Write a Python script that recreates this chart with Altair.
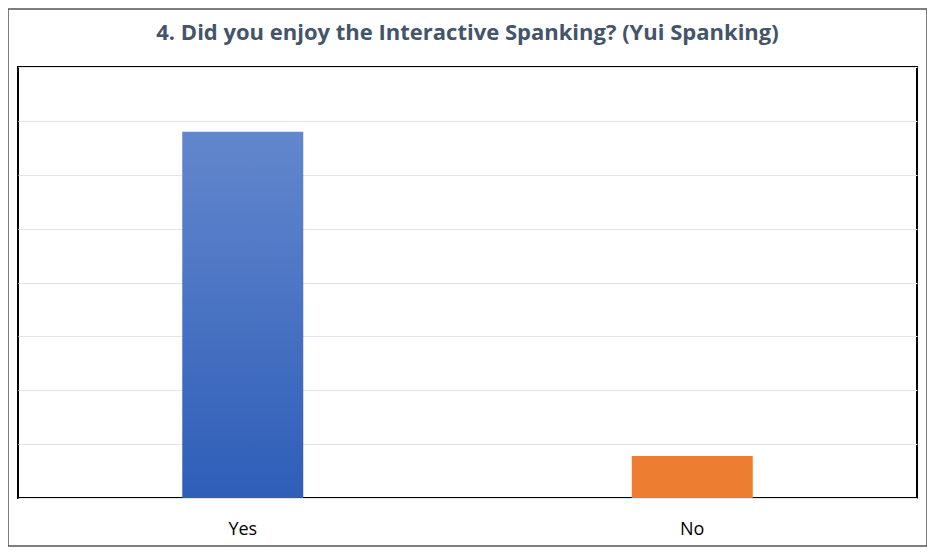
import altair as alt
import pandas as pd

answers = ["Yes", "No"]
responses = [6.8, 0.78]
grid_values = [0, 1, 2, 3, 4, 5, 6, 7, 8]

df = pd.DataFrame({"answer": answers, "value": responses})

x_enc = alt.X("answer:N", sort=answers, title=None,
              scale=alt.Scale(domain=answers, paddingInner=0, paddingOuter=0),
              axis=alt.Axis(labelAngle=0, labelFontSize=18, labelColor="#000000",
                            labelFont="Open Sans", labelPadding=22, ticks=False,
                            domain=False, grid=False))
y_enc = alt.Y("value:Q", title=None,
              scale=alt.Scale(domain=[0, 8], nice=False, zero=True),
              axis=alt.Axis(values=grid_values, labels=False, ticks=False, domain=False,
                            grid=True, gridColor="#E1E4EA", gridWidth=1))

yes_fill = alt.Gradient(
    gradient="linear",
    stops=[alt.GradientStop(color="#6387CD", offset=0),
           alt.GradientStop(color="#2E5EB8", offset=1)],
    x1=0, x2=0, y1=0, y2=1,
)

base = alt.Chart(df)
yes_bar = base.transform_filter(alt.datum.answer == "Yes").mark_bar(
    size=121, fill=yes_fill
).encode(x=x_enc, y=y_enc)
no_bar = base.transform_filter(alt.datum.answer == "No").mark_bar(
    size=121, fill="#ED7D31"
).encode(x=x_enc, y=y_enc)

frame = base.mark_rect(fill=None, stroke="#555555", strokeWidth=1, clip=False).encode(
    x=alt.value(-10), x2=alt.value(909), y=alt.value(-58), y2=alt.value(479)
)

chart = alt.layer(yes_bar, no_bar, frame).properties(
    width=899, height=431,
    background="#FFFFFF",
    title=alt.TitleParams(
        "4. Did you enjoy the Interactive Spanking? (Yui Spanking)",
        font="Open Sans", fontSize=22, fontWeight="bold", color="#44546A",
        anchor="middle", offset=-53, baseline="alphabetic", frame="group",
    ),
    autosize=alt.AutoSizeParams(type="none"),
    padding={"left": 10, "top": 59, "right": 10, "bottom": 49},
).configure_view(
    stroke="#000000", strokeWidth=2
)

chart.save("out.html", embed_options={"renderer": "svg", "actions": False})
